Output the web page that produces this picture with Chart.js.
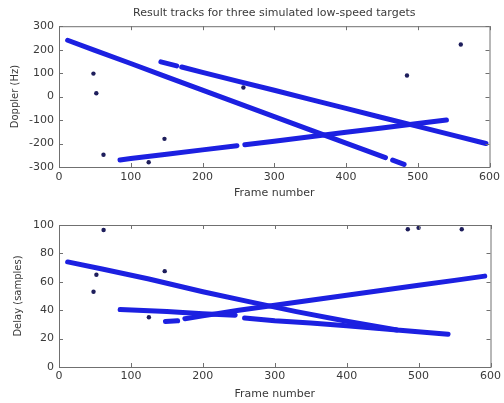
<!DOCTYPE html>
<html>
<head>
<meta charset="utf-8">
<script src="https://cdn.jsdelivr.net/npm/chart.js@4/dist/chart.umd.min.js"></script>
<style>
  body { margin: 0; background: #fff; }
  canvas { position: absolute; left: 0; }
  #dopplerChart { top: 0; }
  #delayChart { top: 200px; }
</style>
</head>
<body>
<canvas id="dopplerChart" width="504" height="200"></canvas>
<canvas id="delayChart" width="504" height="203"></canvas>
<script>
// axis ticks
const frameTicks = [0, 100, 200, 300, 400, 500, 600];
const dopplerTicks = [-300, -200, -100, 0, 100, 200, 300];
const delayTicks = [0, 20, 40, 60, 80, 100];

// doppler tracks (null value = gap in the track)
const dopA_frame = [12, 50, 100, 150, 200, 250, 300, 350, 400, 455, 460, 465, 481];
const dopA_hz    = [240, 197, 141, 84, 28, -29, -85, -142, -198, -260, null, -271, -289];
const dopB_frame = [142, 164, 168, 171, 200, 250, 300, 350, 400, 450, 500, 550, 595];
const dopB_hz    = [148, 131, null, 126, 103, 65, 27, -12, -50, -89, -127, -165, -200];
const dopC_frame = [85, 100, 150, 200, 248, 253, 259, 300, 350, 400, 450, 500, 540];
const dopC_hz    = [-270, -264, -246, -227, -209, null, -205, -190, -171, -152, -134, -115, -100];
const dopOut_frame = [48, 52, 62, 125, 147, 257, 485, 560];
const dopOut_hz    = [98, 14, -248, -280, -180, 39, 90, 222];

// delay tracks
const delA_frame = [12, 60, 125, 200, 264, 330, 402, 470, 541];
const delA_smp   = [74, 69, 62, 53, 46, 39, 32, 26, 23];
const delB_frame = [85, 150, 200, 245, 252, 258, 300, 350, 400, 470];
const delB_smp   = [40.5, 39, 37.5, 36.5, null, 34.5, 32.5, 31, 29, 26];
const delC_frame = [148, 165, 169, 175, 200, 250, 300, 350, 400, 450, 500, 550, 592];
const delC_smp   = [32, 32.5, null, 34, 36, 40, 43.5, 47, 50.5, 54, 57.5, 61, 64];
const delOut_frame = [48, 52, 62, 125, 147, 485, 500, 560];
const delOut_smp   = [53, 65, 96.5, 35, 67.5, 97, 98, 97];

const trackColor = "rgb(28,32,225)";
const outColor = "#1e1e5c";
const textColor = "#3a3a3a";
const fontFamily = "'DejaVu Sans', sans-serif";

function pts(xs, ys) {
  return xs.map((x, i) => ({ x: x, y: ys[i] }));
}

function track(xs, ys) {
  return {
    data: pts(xs, ys),
    showLine: true,
    spanGaps: false,
    borderColor: trackColor,
    backgroundColor: trackColor,
    borderWidth: 5,
    borderCapStyle: "round",
    pointRadius: 0,
  };
}

function outliers(xs, ys) {
  return {
    data: pts(xs, ys),
    showLine: false,
    pointRadius: 2.2,
    pointBorderWidth: 0,
    backgroundColor: outColor,
  };
}

// matlab style box with inward ticks
const matlabBox = {
  id: "matlabBox",
  afterDatasetsDraw(chart) {
    const { ctx, chartArea: a, scales } = chart;
    ctx.save();
    ctx.strokeStyle = "#707070";
    ctx.lineWidth = 1;
    ctx.strokeRect(a.left + 0.5, a.top + 0.5, a.right - a.left, a.bottom - a.top);
    ctx.beginPath();
    scales.x.ticks.forEach((t) => {
      const px = Math.round(scales.x.getPixelForValue(t.value)) + 0.5;
      ctx.moveTo(px, a.bottom);
      ctx.lineTo(px, a.bottom - 4);
      ctx.moveTo(px, a.top);
      ctx.lineTo(px, a.top + 4);
    });
    scales.y.ticks.forEach((t) => {
      const py = Math.round(scales.y.getPixelForValue(t.value)) + 0.5;
      ctx.moveTo(a.left, py);
      ctx.lineTo(a.left + 4, py);
      ctx.moveTo(a.right, py);
      ctx.lineTo(a.right - 4, py);
    });
    ctx.stroke();
    ctx.restore();
  },
};

function makeChart(id, datasets, yTicks, yTitle, o) {
  const ctx = document.getElementById(id).getContext("2d");
  return new Chart(ctx, {
    type: "scatter",
    data: { datasets: datasets },
    plugins: [matlabBox],
    options: {
      responsive: false,
      animation: false,
      layout: { padding: { top: o.padTop, right: 11, bottom: 0, left: 0 } },
      plugins: {
        legend: { display: false },
        tooltip: { enabled: false },
        title: {
          display: !!o.title,
          text: o.title,
          fullSize: false,
          color: textColor,
          font: { family: fontFamily, size: 11, weight: "normal" },
          padding: { top: 7, bottom: 6 },
        },
      },
      scales: {
        x: {
          type: "linear",
          min: frameTicks[0],
          max: frameTicks[frameTicks.length - 1],
          afterBuildTicks: (s) => { s.ticks = frameTicks.map((v) => ({ value: v })); },
          afterFit: (s) => { s.height = o.xHeight; },
          grid: { display: false, drawTicks: false },
          border: { display: false },
          ticks: {
            color: textColor,
            padding: o.xTickPad,
            maxRotation: 0,
            font: { family: fontFamily, size: 11 },
          },
          title: {
            display: true,
            text: "Frame number",
            color: textColor,
            font: { family: fontFamily, size: 11 },
            padding: { top: 0, bottom: o.xTitlePad },
          },
        },
        y: {
          type: "linear",
          min: yTicks[0],
          max: yTicks[yTicks.length - 1],
          afterBuildTicks: (s) => { s.ticks = yTicks.map((v) => ({ value: v })); },
          afterFit: (s) => { s.width = 59; },
          grid: { display: false, drawTicks: false },
          border: { display: false },
          ticks: {
            color: textColor,
            padding: 5,
            font: { family: fontFamily, size: 11 },
          },
          title: {
            display: true,
            text: yTitle,
            color: textColor,
            font: { family: fontFamily, size: 10 },
            padding: { top: o.yTitlePad, bottom: 0 },
          },
        },
      },
    },
  });
}

makeChart("dopplerChart", [
  track(dopA_frame, dopA_hz),
  track(dopB_frame, dopB_hz),
  track(dopC_frame, dopC_hz),
  outliers(dopOut_frame, dopOut_hz),
], dopplerTicks, "Doppler (Hz)", {
  title: "Result tracks for three simulated low-speed targets",
  padTop: 0, xHeight: 33, xTickPad: 4, xTitlePad: 0, yTitlePad: 9,
});

makeChart("delayChart", [
  track(delA_frame, delA_smp),
  track(delB_frame, delB_smp),
  track(delC_frame, delC_smp),
  outliers(delOut_frame, delOut_smp),
], delayTicks, "Delay (samples)", {
  title: "",
  padTop: 25, xHeight: 36, xTickPad: 3, xTitlePad: 2, yTitlePad: 12,
});
</script>
</body>
</html>
